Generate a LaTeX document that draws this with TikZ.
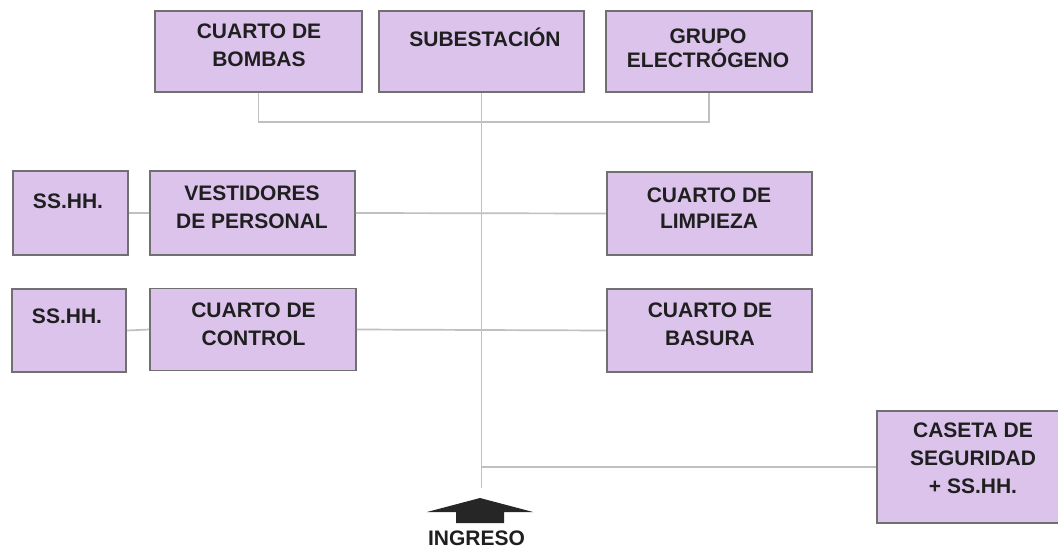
\documentclass[tikz,border=0pt]{standalone}
\usepackage{fontspec}
\setmainfont{Liberation Sans}
\definecolor{boxfill}{RGB}{220,195,236}
\definecolor{boxline}{RGB}{112,112,112}
\definecolor{connline}{RGB}{192,192,192}
\definecolor{arrowfill}{RGB}{38,38,38}
\newcommand\tp{\rule{0pt}{19pt}}
\newcommand\lbfont{\fontsize{21}{28}\selectfont\bfseries}
\begin{document}
\begin{tikzpicture}[x=1pt,y=-1pt,
  box/.style={draw=boxline, fill=boxfill, line width=1.6pt, rectangle, inner sep=0pt},
  lbl/.style={anchor=north, inner sep=0pt, align=center, font=\lbfont, text=black!88},
  conn/.style={draw=connline, line width=1.7pt}]
\useasboundingbox (0,0) rectangle (1058,552);
\clip (0,0) rectangle (1058,552);
\fill[white] (0,0) rectangle (1058,552);

% boxes
\node[box, minimum width=207pt, minimum height=81pt] (bombas) at (258.5,51.5) {};
\node[box, minimum width=205pt, minimum height=81pt] (sub) at (481.5,51.5) {};
\node[box, minimum width=206pt, minimum height=81pt] (grupo) at (709,51.5) {};
\node[box, minimum width=115pt, minimum height=84pt] (ss1) at (70.5,213) {};
\node[box, minimum width=205pt, minimum height=84pt] (vest) at (252.5,213) {};
\node[box, minimum width=205pt, minimum height=83pt] (limp) at (709.5,213.5) {};
\node[box, minimum width=114pt, minimum height=83pt] (ss2) at (69,330.5) {};
\node[box, minimum width=206pt, minimum height=82pt] (ctrl) at (253,329.5) {};
\node[box, minimum width=205pt, minimum height=83pt] (bas) at (709.5,330.5) {};
\node[box, minimum width=192pt, minimum height=112pt] (caseta) at (973,467) {};

% connectors
\coordinate (bk) at (482,122);
\coordinate (endv) at (482,488);
\draw[conn] (bombas.south) -- (bombas.south |- bk) -- (grupo.south |- bk) -- (grupo.south);
\draw[conn] (sub.south) -- (sub.south |- endv);
\draw[conn] (ss1.east) -- (vest.west);
\draw[conn] (vest.east) -- (limp.west);
\draw[conn] (ss2.east) -- (ctrl.west);
\draw[conn] (ctrl.east) -- (bas.west);
\draw[conn] (caseta.west) -- (caseta.west -| endv);

% labels
\node[lbl] (tbombas) at (259,19) {\tp CUARTO DE\\BOMBAS};
\node[lbl] (tsub) at (485,27) {\tp SUBESTACIÓN};
\node[lbl] (tgrupo) at (708,24) {\tp GRUPO\\[-4pt]ELECTRÓGENO};
\node[lbl] (tss1) at (68,189) {\tp SS.HH.};
\node[lbl] (tvest) at (252,181) {\tp VESTIDORES\\DE PERSONAL};
\node[lbl] (tlimp) at (709,183) {\tp CUARTO DE\\[-2pt]LIMPIEZA};
\node[lbl] (tss2) at (67,304) {\tp SS.HH.};
\node[lbl] (tctrl) at (253.5,298) {\tp CUARTO DE\\CONTROL};
\node[lbl] (tbas) at (710,298) {\tp CUARTO DE\\BASURA};
\node[lbl] (tcaseta) at (973,418) {\tp CASETA DE\\SEGURIDAD\\+ SS.HH.};

% entrance arrow
\fill[arrowfill] (480,498) -- (533,512) -- (504,512) -- (504,523) -- (456,523) -- (456,512) -- (427,512) -- cycle;
\node[lbl] (tingreso) at (476.5,526) {\tp INGRESO};
\end{tikzpicture}
\end{document}
